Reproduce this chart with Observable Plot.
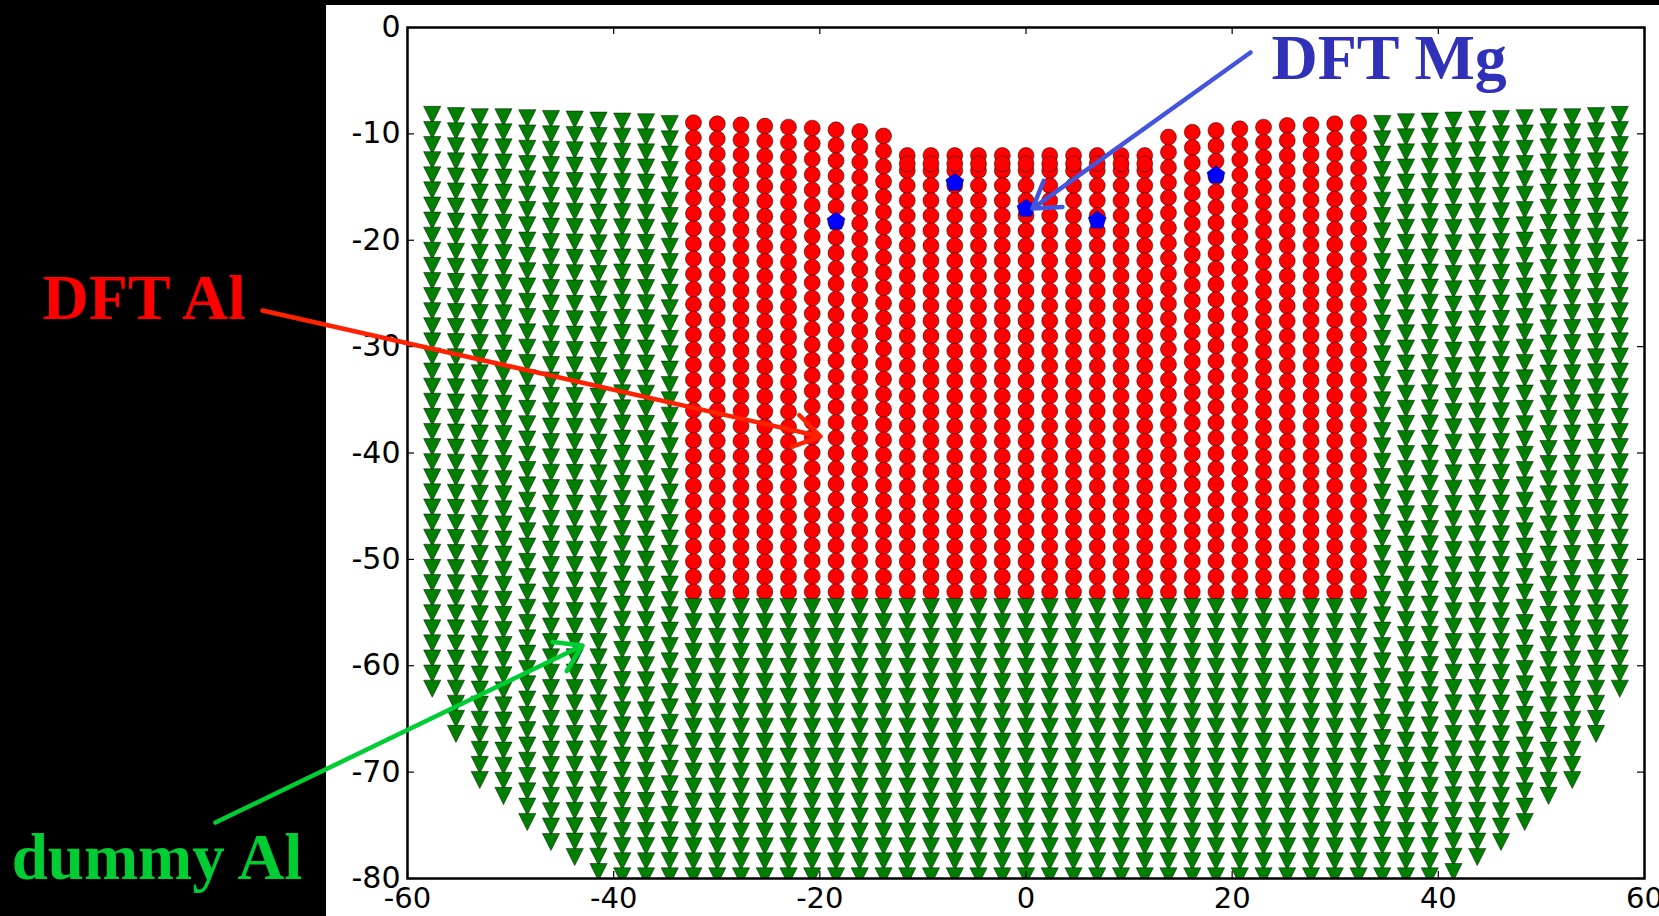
<!DOCTYPE html>
<html>
<head>
<meta charset="utf-8">
<script src="https://cdn.jsdelivr.net/npm/d3@7"></script>
<script src="https://cdn.jsdelivr.net/npm/@observablehq/plot@0.6"></script>
<style>
  html, body { margin: 0; padding: 0; background: #000; width: 1659px; height: 916px; overflow: hidden; }
  #panel { position: absolute; left: 326px; top: 5px; width: 1333px; height: 911px; background: #fff; }
  #chart { position: absolute; left: 0; top: 0; }
</style>
</head>
<body>
<div id="panel"></div>
<div id="chart"></div>
<script>
// Atomic columns of the slab, left to right (x of each column)
const colX = [
  -57.6, -55.3, -52.99, -50.69, -48.38, -46.08, -43.78, -41.47, -39.17, -36.86, -34.56,
  -32.26, -29.95, -27.65, -25.34, -23.04, -20.74, -18.43, -16.13, -13.82,
  -11.52, -9.22, -6.91, -4.61, -2.3, 0, 2.3, 4.61, 6.91, 9.22, 11.52,
  13.82, 16.13, 18.43, 20.74, 23.04, 25.34, 27.65, 29.95, 32.26,
  34.56, 36.86, 39.17, 41.47, 43.78, 46.08, 48.38, 50.69, 52.99, 55.3, 57.6
];
// y of the topmost atom in each column (surface profile)
const colTop = [
  -8.22, -8.34, -8.44, -8.44, -8.53, -8.60, -8.66, -8.76, -8.85, -8.91, -9.07,
  -8.95, -9.05, -9.15, -9.27, -9.37, -9.46, -9.62, -9.77, -10.20,
  -12.03, -12.03, -12.03, -12.03, -12.03, -12.03, -12.03, -12.03, -12.03, -12.03, -12.03,
  -10.30, -9.84, -9.68, -9.52, -9.37, -9.21, -9.15, -9.05, -8.95,
  -9.07, -8.91, -8.85, -8.76, -8.66, -8.60, -8.53, -8.44, -8.44, -8.34, -8.22
];
// y of the lowest atom in each column (rounded bottom of the cluster)
const colBottom = [
  -62.16, -66.41, -70.74, -72.24, -74.69, -76.57, -77.98, -79.4, -79.8, -79.8, -79.8,
  -79.8, -79.8, -79.8, -79.8, -79.8, -79.8, -79.8, -79.8, -79.8,
  -79.8, -79.8, -79.8, -79.8, -79.8, -79.8, -79.8, -79.8, -79.8, -79.8, -79.8,
  -79.8, -79.8, -79.8, -79.8, -79.8, -79.8, -79.8, -79.8, -79.8,
  -79.8, -79.8, -79.8, -79.4, -77.98, -76.57, -74.69, -72.24, -70.74, -66.41, -62.16
];
// lattice row spacing along y, and the DFT region bounds
const rowSpacing = 1.432;
const dftHalfWidth = 32.3;
const dftLowestRow = -53.05;
const dummyHighestRow = -54.48;
// relaxed second surface atoms in the indented middle columns
const pairX = [-11.52, -9.22, -6.91, -4.61, -2.3, 0, 2.3, 4.61, 6.91, 9.22, 11.52];
const pairY = [-12.82, -12.82, -12.82, -12.82, -12.82, -12.82, -12.82, -12.82, -12.82, -12.82, -12.82];
// Mg solute atoms
const mgX = [-18.43, -6.91, 0, 6.91, 18.43];
const mgY = [-18.24, -14.6, -17.04, -18.14, -13.9];

const xTicks = [-60, -40, -20, 0, 20, 40, 60];
const yTicks = [0, -10, -20, -30, -40, -50, -60, -70, -80];

// rows of a column between two end atoms, spaced by the lattice spacing
function columnRows(top, bottom) {
  const n = Math.round((top - bottom) / rowSpacing) + 1;
  const step = n > 1 ? (top - bottom) / (n - 1) : 0;
  return d3.range(n).map(k => top - k * step);
}

const dftAl = [];
const dummyAl = [];
colX.forEach((x, i) => {
  if (Math.abs(x) <= dftHalfWidth) {
    for (const y of columnRows(colTop[i], dftLowestRow)) dftAl.push({x, y});
    for (const y of columnRows(dummyHighestRow, colBottom[i])) dummyAl.push({x, y});
  } else {
    for (const y of columnRows(colTop[i], colBottom[i])) dummyAl.push({x, y});
  }
});
pairX.forEach((x, i) => dftAl.push({x, y: pairY[i]}));
const dftMg = mgX.map((x, i) => ({x, y: mgY[i]}));

// marker shapes: downward triangle and pentagon, sized by r
const triangleDown = {
  draw(ctx, size) {
    const s = Math.sqrt(size / Math.PI);
    ctx.moveTo(-s, -s); ctx.lineTo(s, -s); ctx.lineTo(0, s); ctx.closePath();
  }
};
const pentagon = {
  draw(ctx, size) {
    const s = Math.sqrt(size / Math.PI);
    for (let k = 0; k < 5; k++) {
      const a = -Math.PI / 2 + k * 2 * Math.PI / 5;
      if (k === 0) ctx.moveTo(s * Math.cos(a), s * Math.sin(a));
      else ctx.lineTo(s * Math.cos(a), s * Math.sin(a));
    }
    ctx.closePath();
  }
};

const W = 1659, H = 916;
const mL = 407, mR = 15, mT = 27, mB = 38;
const plotW = W - mL - mR, plotH = H - mT - mB;
const tickLen = 7;
const fmt = d => String(d);
const labelFont = "'Liberation Serif', 'Times New Roman', serif";

const chart = Plot.plot({
  width: W,
  height: H,
  marginLeft: mL, marginRight: mR, marginTop: mT, marginBottom: mB,
  x: {domain: [-60, 60], axis: null},
  y: {domain: [-80, 0], axis: null},
  style: {background: "transparent", color: "#000", fontFamily: "'DejaVu Sans', sans-serif", overflow: "visible"},
  marks: [
    Plot.dot(dftAl, {x: "x", y: "y", r: 8, fill: "#ff0000", stroke: "#000", strokeOpacity: 0.6, strokeWidth: 0.8, clip: true}),
    Plot.dot(dummyAl, {x: "x", y: "y", r: 8.6, symbol: triangleDown, fill: "#007f00", stroke: "#000", strokeOpacity: 0.6, strokeWidth: 0.8, clip: true}),
    Plot.dot(dftMg, {x: "x", y: "y", r: 9.5, symbol: pentagon, fill: "#0000ff", stroke: "#000", strokeOpacity: 0.4, strokeWidth: 0.8, clip: true}),
    // inward tick marks on all four sides
    Plot.tickX(xTicks, {x: d => d, insetTop: plotH - tickLen, stroke: "#000", strokeWidth: 1.2}),
    Plot.tickX(xTicks, {x: d => d, insetBottom: plotH - tickLen, stroke: "#000", strokeWidth: 1.2}),
    Plot.tickY(yTicks, {y: d => d, insetRight: plotW - tickLen, stroke: "#000", strokeWidth: 1.2}),
    Plot.tickY(yTicks, {y: d => d, insetLeft: plotW - tickLen, stroke: "#000", strokeWidth: 1.2}),
    Plot.frame({stroke: "#000", strokeWidth: 2.5}),
    Plot.axisX(xTicks, {anchor: "bottom", tickSize: 0, tickPadding: 9, tickFormat: fmt, fontSize: 29, label: null}),
    Plot.axisY(yTicks, {anchor: "left", tickSize: 0, tickPadding: 7, tickFormat: fmt, fontSize: 30, label: null}),
    // annotations
    Plot.arrow([0], {x1: -74.07, y1: -26.6, x2: -19.93, y2: -38.45, stroke: "#ff2200", strokeWidth: 4.5, headLength: 10, headAngle: 65}),
    Plot.arrow([0], {x1: -78.63, y1: -74.74, x2: -43.02, y2: -58.1, stroke: "#00cc33", strokeWidth: 4.5, headLength: 10, headAngle: 65}),
    Plot.arrow([0], {x1: 21.78, y1: -2.35, x2: 0.63, y2: -17.02, stroke: "#4455dd", strokeWidth: 4.5, headLength: 10, headAngle: 65}),
    Plot.text(["DFT Al"], {x: -95.4, y: -25.48, text: d => d, fill: "#ff0000", fontSize: 64, fontWeight: "bold", fontFamily: labelFont, textAnchor: "start", lineAnchor: "middle"}),
    Plot.text(["dummy Al"], {x: -98.4, y: -78.12, text: d => d, fill: "#00cc33", fontSize: 65, fontWeight: "bold", fontFamily: labelFont, textAnchor: "start", lineAnchor: "middle"}),
    Plot.text(["DFT Mg"], {x: 23.82, y: -2.91, text: d => d, fill: "#3030b8", fontSize: 64, fontWeight: "bold", fontFamily: labelFont, textAnchor: "start", lineAnchor: "middle"})
  ]
});
document.getElementById("chart").appendChild(chart);
</script>
</body>
</html>
